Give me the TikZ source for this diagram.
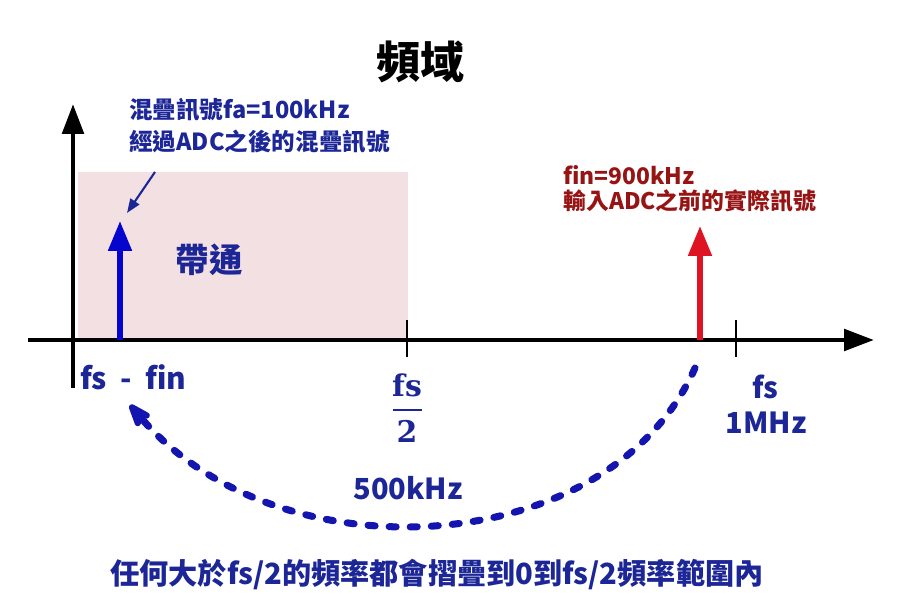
\documentclass[tikz,border=0pt]{standalone}
\usepackage{fontspec}
\newfontfamily\cjk{Noto Sans CJK TC}
\newfontfamily\fracfont{DejaVu Serif}
\usetikzlibrary{arrows.meta,positioning}

\definecolor{navytxt}{RGB}{28,38,150}
\definecolor{spikeblue}{RGB}{5,5,205}
\definecolor{spikered}{RGB}{222,20,35}
\definecolor{redtxt}{RGB}{150,20,20}
\definecolor{bandpink}{RGB}{242,224,226}
\definecolor{foldblue}{RGB}{20,20,175}

\tikzset{
  axis/.style={line width=2.8pt,-{Triangle[length=17pt,width=12pt]}},
  tickmark/.style={line width=1.4pt},
  spike/.style={line width=3pt,-{Triangle[length=17pt,width=13pt]}},
  pointer/.style={draw=navytxt,line width=1.2pt,-{Triangle[length=8pt,width=6pt]}},
  fold/.style={draw=foldblue,fill=none,line width=4pt,line cap=round,dash pattern=on 4pt off 8pt,
    -{Stealth[length=18pt,width=13pt,inset=4pt,round]}},
  note/.style={font=\cjk\bfseries\fontsize{13.4}{18}\selectfont,align=left,inner sep=0pt},
  axlabel/.style={text=navytxt,font=\cjk\bfseries\fontsize{16.5}{21}\selectfont,inner sep=0pt},
  fracpart/.style={text=navytxt,font=\fracfont\bfseries\fontsize{17}{21}\selectfont,inner sep=0pt}
}

\begin{document}
\begin{tikzpicture}[x=0.02cm,y=-0.02cm]

\useasboundingbox (0,0) rectangle (900,607);

% pass band
\fill[bandpink] (78,172) rectangle (408,340);

% axes
\coordinate (xstart) at (28,340);
\coordinate (xend)   at (874,340);
\coordinate (ybot)   at (73,388);
\coordinate (ytop)   at (73,104);
\draw[axis] (xstart) -- (xend);
\draw[axis] (ybot) -- (ytop);

\foreach \x / \tname in {407/half,736/fsamp}
  \draw[tickmark] (\x,320) coordinate (\tname) -- (\x,357);

% spectral lines
\coordinate (fa)     at (120,340);
\coordinate (fatip)  at (120,221);
\coordinate (fin)    at (700,340);
\coordinate (fintip) at (700,226);
\draw[spike,spikeblue] (fa) -- (fatip);
\draw[spike,spikered] (fin) -- (fintip);

\node[font=\cjk\bfseries\fontsize{25}{30}\selectfont] (title) at (420,62) {頻域};

\node[note,text=navytxt,anchor=north west] (fanote) at (129,98)
  {混疊訊號fa=100kHz\\經過ADC之後的混疊訊號};
\node[note,text=redtxt,anchor=north west,font=\cjk\bfseries\fontsize{13}{14.5}\selectfont] (finnote) at (563,165)
  {fin=900kHz\\輸入ADC之前的實際訊號};

\coordinate (ptrstart) at (155,172);
\coordinate (ptrend)   at (127,213);
\draw[pointer] (ptrstart) -- (ptrend);

\node[text=navytxt,font=\cjk\bfseries\fontsize{19}{22}\selectfont] (band) at (209,260) {帶通};

% axis labels
\node[axlabel,anchor=west,font=\cjk\bfseries\fontsize{17}{21}\selectfont] (diff) at (80,377) {fs\hspace{0.45em}-\hspace{0.45em}fin};
\node[fracpart] (nyqnum) at (407,385) {fs};
\node[fracpart] (nyqden) at (407,431) {2};
\coordinate (barl) at (393,410);
\coordinate (barr) at (422,410);
\draw[navytxt,line width=1.2pt] (barl) -- (barr);
\node[axlabel] (fslab) at (765,387) {fs};
\node[axlabel] (mhz) at (766,423) {1MHz};
\node[axlabel] (khz) at (408,488) {500kHz};

% folding
\coordinate (foldstart) at (695,368);
\coordinate (foldend)   at (130,405);
\draw[fold] (foldstart) .. controls (610,560) and (280,580) .. (foldend);

\node[text=navytxt,font=\cjk\bfseries\fontsize{16.6}{20}\selectfont] (rule) at (437,575)
  {任何大於fs/2的頻率都會摺疊到0到fs/2頻率範圍內};

\end{tikzpicture}
\end{document}
